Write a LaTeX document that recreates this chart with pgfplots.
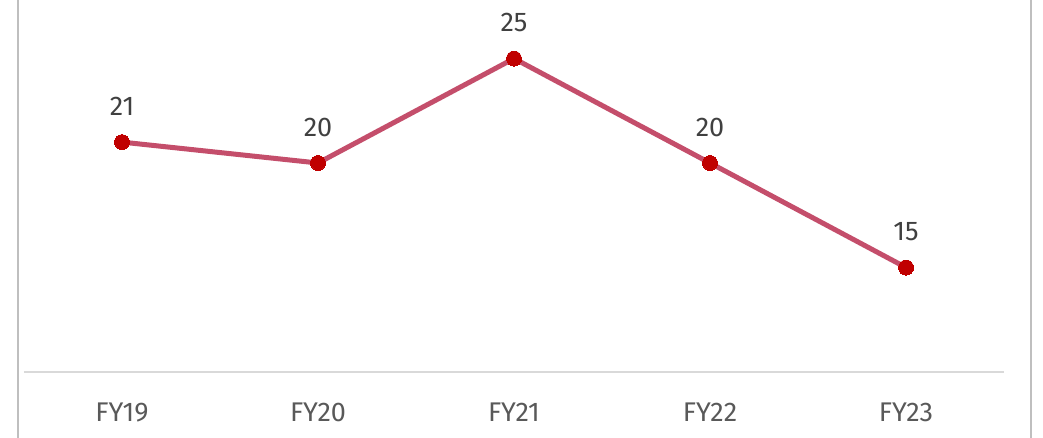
\documentclass[border=0pt]{standalone}
\usepackage{fontspec}
\setmainfont{Fira Sans}
\usepackage{pgfplots}
\pgfplotsset{compat=1.18}
\definecolor{linec}{HTML}{C44E6B}
\definecolor{markc}{HTML}{C00000}
\definecolor{bordc}{HTML}{BFBFBF}
\definecolor{axc}{HTML}{D9D9D9}
\definecolor{tickc}{HTML}{595959}
\definecolor{labc}{HTML}{404040}
\begin{document}
\begin{tikzpicture}[x=1pt,y=1pt]
\useasboundingbox (0,0) rectangle (1043,438);
\draw[bordc, line width=2pt] (18,0) -- (18,438);
\draw[bordc, line width=2pt] (1031,0) -- (1031,438);
\begin{axis}[
  at={(24pt,66pt)}, anchor=south west,
  scale only axis, width=980pt, height=372pt,
  xmin=-0.5, xmax=4.5, ymin=10, ymax=27.8,
  axis x line=bottom, axis y line=none,
  axis line style={axc, line width=2pt, -},
  xtick=data, xticklabels={FY19,FY20,FY21,FY22,FY23},
  xtick style={draw=none},
  /pgf/number format/assume math mode=true,
  ticklabel style={font=\fontsize{27}{32}\selectfont, text=tickc},
  xticklabel style={yshift=-25pt},
  clip=false,
  nodes near coords,
  every node near coord/.append style={font=\fontsize{27}{32}\selectfont, text=labc, yshift=23pt},
]
\addplot[linec, line width=5pt, mark=*, mark size=7.5pt, mark options={markc, fill=markc, line width=0pt}]
  coordinates {(0,21) (1,20) (2,25) (3,20) (4,15)};
\end{axis}
\end{tikzpicture}
\end{document}
